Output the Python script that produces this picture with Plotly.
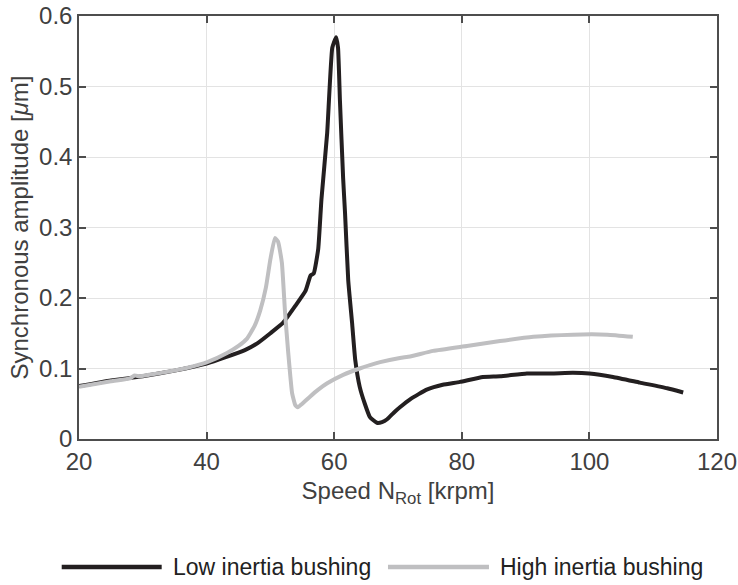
import plotly.graph_objects as go

# Low inertia bushing (black)
low_x = [20, 25, 30, 35, 40, 43, 46, 48, 50, 52, 54, 55.5, 56.3, 56.8, 57.5, 58.0, 58.9, 59.7, 60.3,
         60.6, 60.9, 61.4, 61.7, 62.2, 62.8, 63.3, 64.0, 64.8, 65.6, 66.7, 67.5, 68.3, 69.3, 70.3,
         72, 74.5, 77, 79.7, 83.3, 86, 90.2, 94, 97.4, 100, 103.7, 107.9, 112.2, 114.7]
low_y = [0.075, 0.083, 0.089, 0.097, 0.107, 0.116, 0.126, 0.136, 0.150, 0.165, 0.19, 0.21, 0.232, 0.235,
         0.27, 0.34, 0.434, 0.555, 0.570, 0.555, 0.48, 0.37, 0.32, 0.225, 0.165, 0.112, 0.074, 0.05,
         0.031, 0.023, 0.024, 0.028, 0.037, 0.045, 0.057, 0.070, 0.077, 0.081, 0.088, 0.089, 0.093,
         0.093, 0.094, 0.093, 0.088, 0.080, 0.072, 0.066]

# High inertia bushing (gray)
high_x = [20, 25, 28, 28.7, 29.5, 31, 34.3, 37, 40.1, 43.2, 45, 46.3, 47.5, 48.4, 49.3, 50.0, 50.7,
          51.2, 51.8, 52.3, 52.8, 53.4, 53.9, 54.3, 55, 56.2, 57.5, 58.9, 61.4, 64.0, 67.2, 70.3,
          71.9, 75.5, 80.8, 86.0, 91.2, 97.4, 102.8, 106.8]
high_y = [0.074, 0.082, 0.086, 0.090, 0.089, 0.091, 0.096, 0.101, 0.109, 0.122, 0.132, 0.142, 0.160,
          0.182, 0.215, 0.255, 0.285, 0.28, 0.25, 0.179, 0.122, 0.065, 0.048, 0.045, 0.050, 0.060,
          0.070, 0.079, 0.091, 0.100, 0.109, 0.115, 0.117, 0.125, 0.132, 0.139, 0.145, 0.148, 0.148,
          0.145]

x_ticks = [20, 40, 60, 80, 100, 120]
y_ticks = [0, 0.1, 0.2, 0.3, 0.4, 0.5, 0.6]
y_tick_text = ["0", "0.1", "0.2", "0.3", "0.4", "0.5", "0.6"]

series_names = ["Low inertia bushing", "High inertia bushing"]
series_colors = ["#231f20", "#bfbfc1"]

FONT = "Liberation Sans, Arial, sans-serif"
TXT = "#404040"
FS = 24

fig = go.Figure()
fig.add_trace(go.Scatter(x=low_x, y=low_y, mode="lines", name=series_names[0],
                         line=dict(color=series_colors[0], width=4, shape="spline", smoothing=0.4)))
fig.add_trace(go.Scatter(x=high_x, y=high_y, mode="lines", name=series_names[1],
                         line=dict(color=series_colors[1], width=4, shape="spline", smoothing=0.4)))

axis_common = dict(showline=True, linecolor="#4d4d4d", linewidth=1.5, mirror="ticks",
                   ticks="inside", ticklen=7, tickwidth=1.5, tickcolor="#4d4d4d",
                   showgrid=True, gridcolor="#e3e3e3", gridwidth=1.2, zeroline=False,
                   automargin=False,
                   tickfont=dict(family=FONT, size=FS, color=TXT))

fig.update_xaxes(range=[20, 120], tickvals=x_ticks, **axis_common,
                 title=dict(text="Speed N<sub>Rot</sub> [krpm]", font=dict(family=FONT, size=FS, color=TXT),
                            standoff=9))
fig.update_yaxes(range=[0, 0.6], tickvals=y_ticks, ticktext=y_tick_text, **axis_common,
                 title=dict(text="Synchronous amplitude [<i>μ</i>m]", font=dict(family=FONT, size=FS, color=TXT),
                            standoff=4))

# Legend drawn below the axes (samples + labels in paper coordinates)
legend_samples = [(-0.0271, 0.1296, 0.1453), (0.4843, 0.6426, 0.6583)]
leg_y = -0.3026
for (x0, x1, xt), name, col in zip(legend_samples, series_names, series_colors):
    fig.add_shape(type="line", xref="paper", yref="paper", x0=x0, x1=x1, y0=leg_y, y1=leg_y,
                  line=dict(color=col, width=4.5))
    fig.add_annotation(xref="paper", yref="paper", x=xt, y=leg_y, text=name, showarrow=False,
                       xanchor="left", yanchor="middle", borderpad=0,
                       font=dict(family=FONT, size=23, color="#222222"))

fig.update_layout(
    width=738, height=585,
    margin=dict(l=79, r=21, t=16, b=146),
    paper_bgcolor="white", plot_bgcolor="white",
    showlegend=False,
)

# remove the browser's default 8px body margin so the figure fills the window exactly
fig.write_html("out.html", config={"displayModeBar": False},
               post_script="document.body.style.margin='0';")
